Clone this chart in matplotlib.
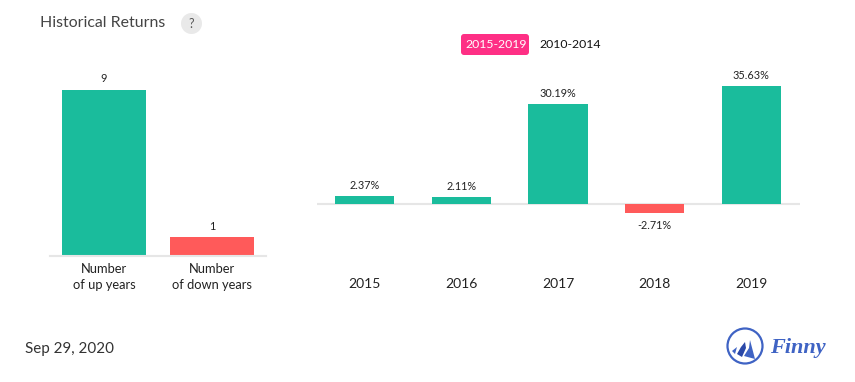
import matplotlib
matplotlib.use("Agg")
import matplotlib.pyplot as plt
from matplotlib.patches import Circle, FancyBboxPatch, Polygon

plt.rcParams['font.family'] = ['Lato', 'DejaVu Sans']

W, H = 855, 382
summary_labels = ["Number\nof up years", "Number\nof down years"]
summary_values = [9, 1]
years = ["2015", "2016", "2017", "2018", "2019"]
returns = [2.37, 2.11, 30.19, -2.71, 35.63]
return_labels = ["2.37%", "2.11%", "30.19%", "-2.71%", "35.63%"]
GREEN, RED = "#1abc9c", "#ff5a5a"
AXIS = "#e6e6e6"
TEXT = "#222222"


def px_axes(fig, x0, y0, x1, y1):
    return fig.add_axes([x0 / W, 1 - y1 / H, (x1 - x0) / W, (y1 - y0) / H])


def clean(ax):
    for s in ("top", "left", "right"):
        ax.spines[s].set_visible(False)
    ax.set_yticks([])
    ax.patch.set_alpha(0)


fig = plt.figure(figsize=(W / 100, H / 100), dpi=100, facecolor="white")

ov = fig.add_axes([0, 0, 1, 1])
ov.set_xlim(0, W)
ov.set_ylim(H, 0)
ov.axis("off")

# left chart
ax = px_axes(fig, 50, 73, 266, 255.5)
clean(ax)
ax.bar(range(2), summary_values, width=0.778, color=[GREEN, RED], zorder=2)
ax.set_xlim(-0.5, 1.5)
ax.set_ylim(0, 9 * 182.5 / 165.5)
ax.spines["bottom"].set_color(AXIS)
ax.spines["bottom"].set_linewidth(1.5)
ax.set_xticks(range(2), summary_labels, fontsize=9.3, color=TEXT, linespacing=1.45)
ax.tick_params(axis="x", length=0, pad=5.2)
for i, v in enumerate(summary_values):
    ax.annotate(str(v), (i, v), xytext=(0, 4), textcoords="offset points",
                ha="center", va="bottom", fontsize=7.8, color=TEXT)

# right chart
rx = px_axes(fig, 316.5, 73, 799.5, 271)
clean(rx)
rx.bar(range(5), returns, width=0.611, color=[GREEN if r >= 0 else RED for r in returns], zorder=2)
rx.set_xlim(-0.5, 4.5)
ppu = 118 / 35.63
rx.set_ylim(-67 / ppu, 131 / ppu)
rx.spines["bottom"].set_visible(False)
rx.axhline(0, color=AXIS, lw=1.5, zorder=1)
rx.set_xticks(range(5), years, fontsize=10, color=TEXT)
rx.tick_params(axis="x", length=0, pad=5)
for i, (v, lab) in enumerate(zip(returns, return_labels)):
    rx.annotate(lab, (i, v), xytext=(0, 3.5 if v >= 0 else -5), textcoords="offset points",
                ha="center", va="bottom" if v >= 0 else "top", fontsize=7.8, color=TEXT)

# header
ov.text(40, 23, "Historical Returns", fontsize=11.4, color="#444444", va="center", ha="left")
ov.add_patch(Circle((191.5, 23.5), 10.5, color="#e9e9e9", lw=0))
ov.text(191.5, 23.5, "?", fontsize=9, color="#555555", ha="center", va="center")

# period toggle
ov.add_patch(FancyBboxPatch((462, 35), 66, 19, boxstyle="round,pad=1,rounding_size=3",
                            fc="#fe2f85", ec="none"))
ov.text(496, 44.5, "2015-2019", fontsize=8.8, color="white", ha="center", va="center")
ov.text(570, 44.5, "2010-2014", fontsize=8.8, color="#111111", ha="center", va="center")

# date
ov.text(25, 349, "Sep 29, 2020", fontsize=10.9, color="#333333", va="center", ha="left")

# logo
BLUE = "#3f63c4"
ov.add_patch(Circle((745, 346), 17.5, fc="white", ec=BLUE, lw=1.6))
ov.add_patch(Polygon([(750, 340), (755, 359), (744, 356), (749, 348)], fc=BLUE, lw=0))
ov.add_patch(Polygon([(745, 342), (746, 348), (742, 357), (737, 354), (741, 347)], fc="#2a48a8", lw=0))
ov.add_patch(Polygon([(737, 347), (735, 354), (732, 351)], fc=BLUE, lw=0))
ov.text(798, 348, "Finny", fontsize=16, style="italic", weight="bold", family="Liberation Serif",
        color=BLUE, ha="center", va="center")

fig.savefig("out.png", dpi=100, facecolor="white")
